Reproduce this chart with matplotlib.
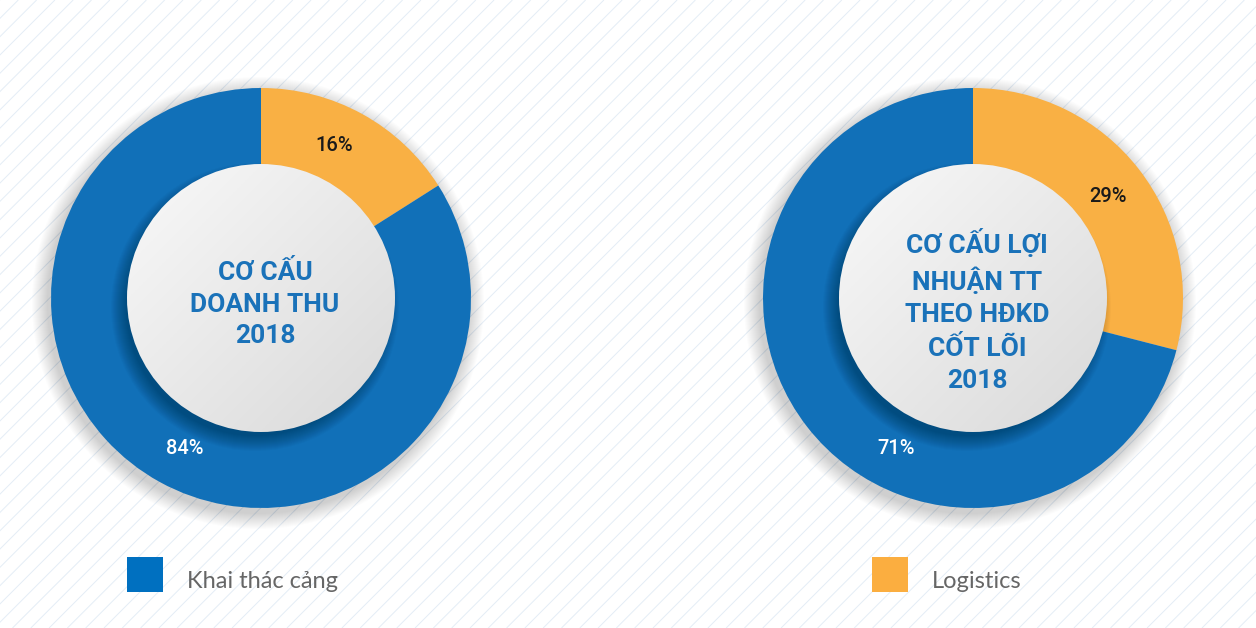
import numpy as np
import matplotlib
matplotlib.use("Agg")
import matplotlib.pyplot as plt
from matplotlib.patches import Circle, Rectangle
from matplotlib.collections import LineCollection

# Data
categories = ["Logistics", "Khai thác cảng"]
revenue_share = [16, 84]
profit_share = [29, 71]
chart_titles = ["CƠ CẤU\nDOANH THU\n2018",
                "CƠ CẤU LỢI\nNHUẬN TT\nTHEO HĐKD\nCỐT LÕI\n2018"]

W, H = 1256, 628
pie_colors = ["#F9B044", "#1170B8"]
legend_colors = {"Khai thác cảng": "#0070C0", "Logistics": "#FBAE40"}
title_color = "#1A72B9"
cond = ["Liberation Sans Narrow", "Roboto", "DejaVu Sans"]

fig = plt.figure(figsize=(W / 100, H / 100), dpi=100)
ax = fig.add_axes([0, 0, 1, 1])

# hatched background
bg = Rectangle((16, 0), W - 16, H - 13, facecolor="white", edgecolor="none", zorder=0)
ax.add_patch(bg)
step = 18.3
segs = [[(x0, 0), (x0 + H, H)] for x0 in np.arange(-H, W, step)]
lc = LineCollection(segs, colors="#e4edf6", linewidths=0.7, zorder=0.5)
lc.set_clip_path(bg)
ax.add_collection(lc)

R_OUT, R_IN = 210, 134
centers = [(261, 298), (973, 298)]
datasets = [revenue_share, profit_share]
label_shift = [3, -1]  # small nudge of the orange label (degrees)

# gradient image for inner circle
gy, gx = np.mgrid[0:1:200j, 0:1:200j]
grad = (gx + gy) / 2.0
gcmap = matplotlib.colors.LinearSegmentedColormap.from_list("g", ["#f9f9f9", "#d9d9d9"])

for (cx, cy), vals, title, sh in zip(centers, datasets, chart_titles, label_shift):
    cyd = H - cy
    # outer soft shadow
    for k in range(16):
        ax.add_patch(Circle((cx - 3, cyd - 5), R_OUT + 16 - k, color="black",
                            alpha=0.011, lw=0, zorder=1))
    wedges, _ = ax.pie(vals, colors=pie_colors, startangle=90, counterclock=False,
                       center=(cx, cyd), radius=R_OUT,
                       wedgeprops=dict(linewidth=0))
    for w in wedges:
        w.set_zorder(2)
    # shadow of inner disc on the ring
    for k in range(16):
        ax.add_patch(Circle((cx - 6, cyd - 9), R_IN + 10 - k, color="black",
                            alpha=0.018, lw=0, zorder=3))
    disc = Circle((cx, cyd), R_IN, facecolor="none", edgecolor="none", zorder=4)
    ax.add_patch(disc)
    im = ax.imshow(grad, cmap=gcmap, extent=(cx - R_IN, cx + R_IN, cyd - R_IN, cyd + R_IN),
                   origin="upper", zorder=4, interpolation="bilinear")
    im.set_clip_path(disc)

    # percentage labels
    for i, (w, v) in enumerate(zip(wedges, vals)):
        if i == 0:
            ang = np.deg2rad((w.theta1 + w.theta2) / 2 + sh)
            col = "#1a1a1a"
        else:
            ang = np.deg2rad(-117)
            col = "white"
        r = 169
        ax.text(cx + r * np.cos(ang), cyd + r * np.sin(ang), f"{v}%",
                ha="center", va="center", fontsize=14.5, fontweight="medium",
                color=col, family=cond, zorder=6)

    ax.text(cx + 4, cyd - (13 if title.count("\n") > 2 else 6), title, ha="center",
            va="center", fontsize=19, fontweight="bold", color=title_color,
            family=cond, linespacing=1.42, zorder=6)

# legend
for (lx, name) in [(127, "Khai thác cảng"), (872, "Logistics")]:
    ax.add_patch(Rectangle((lx, H - 592), 36, 35, color=legend_colors[name], lw=0, zorder=6))
    ax.text(lx + 60, H - 581, name, ha="left", va="center", fontsize=17,
            color="#666666", family=["Lato", "DejaVu Sans"], fontweight="normal", zorder=6)

ax.set_xlim(0, W)
ax.set_ylim(0, H)
ax.set_aspect("auto")
ax.axis("off")

fig.savefig("out.png", dpi=100, facecolor="white")
